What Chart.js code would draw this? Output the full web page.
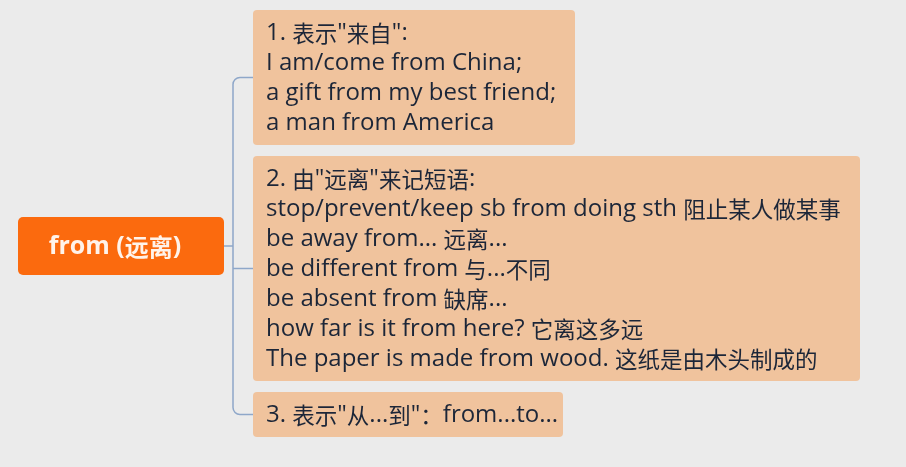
<!DOCTYPE html>
<html><head><meta charset="utf-8">
<script src="https://cdn.jsdelivr.net/npm/chart.js@4"></script>
<style>html,body{margin:0;padding:0;background:#ebebeb;}canvas{display:block;}</style>
</head><body>
<canvas id="c" width="906" height="467"></canvas>
<script>
// ---- content ----
const rootLabel = 'from (远离)';
const branchTitles = ['1. 表示"来自":', '2. 由"远离"来记短语:', '3. 表示"从...到"：from...to...'];
const branch1Items = ['I am/come from China;', 'a gift from my best friend;', 'a man from America'];
const branch2Items = ['stop/prevent/keep sb from doing sth 阻止某人做某事', 'be away from... 远离...', 'be different from 与...不同', 'be absent from 缺席...', 'how far is it from here? 它离这多远', 'The paper is made from wood. 这纸是由木头制成的'];
const branch3Items = [];
const branchItems = [branch1Items, branch2Items, branch3Items];

// ---- layout (in scale units == px) ----
const L = {
  root: {x0: 18, x1: 224, y0: 217, y1: 275},
  childX: 253, trunkX: 233, top: 10, gap: 11, lineH: 30, padV: 7.5, padL: 13,
  widths: [322, 607, 310],
  latin: '24px "Open Sans", sans-serif',
  cjk: '22.5px "Noto Sans CJK SC", sans-serif',
  rootLatin: 'bold 25px "Open Sans", sans-serif',
  rootCjk: 'bold 24px "Noto Sans CJK SC", sans-serif',
  colors: {root: '#fb6a0e', box: '#f0c39d', text: '#1c2638', line: '#8ea7c9'}
};

const isCjk = ch => /[\u3000-\u9fff\uff00-\uffef]/.test(ch);
function runs(s) {
  const out = [];
  for (const ch of s) {
    const c = isCjk(ch);
    if (out.length && out[out.length - 1].c === c) out[out.length - 1].t += ch;
    else out.push({t: ch, c});
  }
  return out;
}
function drawMixed(ctx, s, x, y, fl, fc, align) {
  const rs = runs(s);
  let w = 0;
  rs.forEach(r => { ctx.font = r.c ? fc : fl; r.w = ctx.measureText(r.t).width; w += r.w; });
  let cx = align === 'center' ? x - w / 2 : x;
  ctx.textAlign = 'left'; ctx.textBaseline = 'middle';
  rs.forEach(r => { ctx.font = r.c ? fc : fl; ctx.fillText(r.t, cx, y); cx += r.w; });
}

const mindmap = {
  id: 'mindmap',
  afterDraw(chart) {
    const ctx = chart.ctx, xs = chart.scales.x, ys = chart.scales.y;
    const X = v => xs.getPixelForValue(v), Y = v => ys.getPixelForValue(v);
    ctx.save();
    let y = L.top;
    const boxes = branchTitles.map((t, i) => {
      const lines = [t].concat(branchItems[i]);
      const h = lines.length * L.lineH + 2 * L.padV;
      const b = {x0: L.childX, x1: L.childX + L.widths[i], y0: y, y1: y + h, lines};
      y += h + L.gap;
      return b;
    });
    // connectors
    const rc = (L.root.y0 + L.root.y1) / 2;
    const r = 7;
    ctx.strokeStyle = L.colors.line; ctx.lineWidth = 1.5;
    ctx.beginPath();
    ctx.moveTo(X(L.root.x1), Y(rc)); ctx.lineTo(X(L.trunkX), Y(rc));
    ctx.stroke();
    const first = boxes[0], last = boxes[boxes.length - 1];
    const fc = (first.y0 + first.y1) / 2, lc = (last.y0 + last.y1) / 2;
    ctx.beginPath();
    ctx.moveTo(X(L.childX), Y(fc));
    ctx.arcTo(X(L.trunkX), Y(fc), X(L.trunkX), Y(fc + r), r);
    ctx.lineTo(X(L.trunkX), Y(lc - r));
    ctx.arcTo(X(L.trunkX), Y(lc), X(L.childX), Y(lc), r);
    ctx.lineTo(X(L.childX), Y(lc));
    ctx.stroke();
    boxes.slice(1, -1).forEach(b => {
      const c = (b.y0 + b.y1) / 2;
      ctx.beginPath(); ctx.moveTo(X(L.trunkX), Y(c)); ctx.lineTo(X(L.childX), Y(c)); ctx.stroke();
    });
    // root
    ctx.fillStyle = L.colors.root;
    ctx.beginPath();
    ctx.roundRect(X(L.root.x0), Y(L.root.y0), X(L.root.x1) - X(L.root.x0), Y(L.root.y1) - Y(L.root.y0), 5);
    ctx.fill();
    ctx.fillStyle = '#fff3ea';
    drawMixed(ctx, rootLabel, X((L.root.x0 + L.root.x1) / 2 - 6), Y(rc + 1), L.rootLatin, L.rootCjk, 'center');
    // child boxes
    boxes.forEach(b => {
      ctx.fillStyle = L.colors.box;
      ctx.beginPath();
      ctx.roundRect(X(b.x0), Y(b.y0), X(b.x1) - X(b.x0), Y(b.y1) - Y(b.y0), 4);
      ctx.fill();
      ctx.fillStyle = L.colors.text;
      b.lines.forEach((s, j) => {
        drawMixed(ctx, s, X(b.x0 + L.padL), Y(b.y0 + L.padV + L.lineH * (j + 0.5) + 1), L.latin, L.cjk, 'left');
      });
    });
    ctx.restore();
  }
};

new Chart(document.getElementById('c'), {
  type: 'scatter',
  data: {datasets: [{data: [], pointRadius: 0}]},
  options: {
    responsive: false, animation: false, events: [],
    layout: {padding: 0},
    plugins: {legend: {display: false}, tooltip: {enabled: false}},
    scales: {
      x: {type: 'linear', min: 0, max: 906, display: false},
      y: {type: 'linear', min: 0, max: 467, reverse: true, display: false}
    }
  },
  plugins: [mindmap]
});
</script>
</body></html>
